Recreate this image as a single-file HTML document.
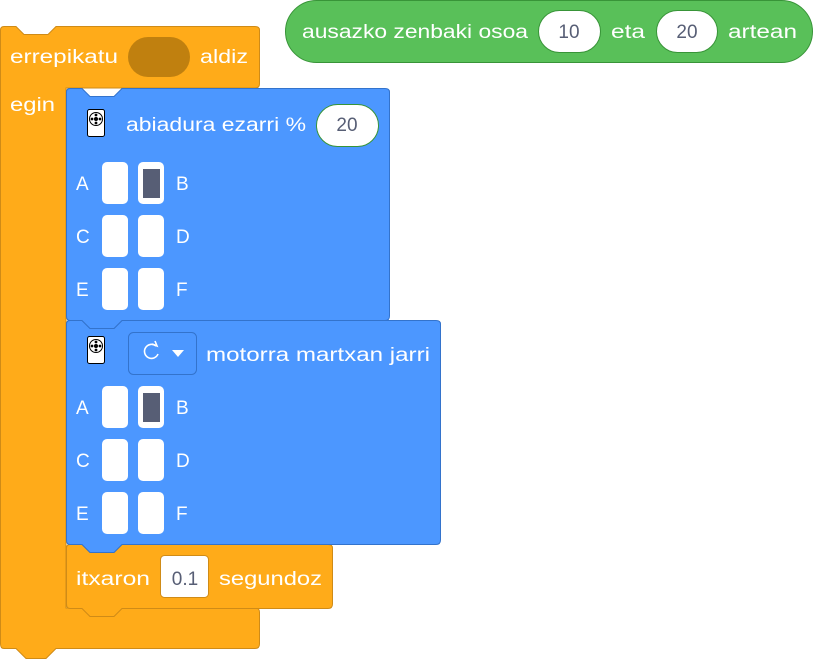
<!DOCTYPE html>
<html><head><meta charset="utf-8"><style>
html,body{margin:0;padding:0;background:#fff;width:813px;height:660px;overflow:hidden}
svg{display:block}
text{font-family:"Liberation Sans",sans-serif;font-size:19px;fill:#fff}
.dk{fill:#575E75}
</style></head><body>
<svg width="813" height="660" viewBox="0 0 813 660">
<g>
<rect x="285.5" y="0.5" width="527" height="62" rx="31" fill="#59C059" stroke="#389438"/>
<text x="302" y="38" textLength="226" lengthAdjust="spacingAndGlyphs">ausazko zenbaki osoa</text>
<rect x="538.5" y="10.5" width="62" height="42" rx="21" fill="#fff" stroke="#389438"/>
<text class="dk" x="569" y="38" text-anchor="middle">10</text>
<text x="611" y="38" textLength="34" lengthAdjust="spacingAndGlyphs">eta</text>
<rect x="656.5" y="10.5" width="61" height="42" rx="21" fill="#fff" stroke="#389438"/>
<text class="dk" x="687" y="38" text-anchor="middle">20</text>
<text x="728" y="38" textLength="69" lengthAdjust="spacingAndGlyphs">artean</text>
</g>
<g>
<path d="M0.5,30 Q0.5,26.5 4,26.5 L16,26.5 L24,34.5 L48,34.5 L56,26.5 L255,26.5 Q259.5,26.5 259.5,30 L259.5,84 Q259.5,88 255,88 L66,88 L66,608 L255,608 Q259.5,608 259.5,612 L259.5,644 Q259.5,648.5 255,648.5 L56,648.5 L46,658.5 L26,658.5 L16,648.5 L4,648.5 Q0.5,648.5 0.5,644 Z" fill="#FFAB19" stroke="#CF8B17"/>
<text x="10" y="63" textLength="108" lengthAdjust="spacingAndGlyphs">errepikatu</text>
<rect x="128" y="37" width="62" height="40" rx="20" fill="#C0800F"/>
<text x="200" y="63" textLength="48" lengthAdjust="spacingAndGlyphs">aldiz</text>
<text x="10" y="111" textLength="45" lengthAdjust="spacingAndGlyphs">egin</text>
</g>
<g>
<path d="M66.5,548 Q66.5,544.5 70,544.5 L82,544.5 L90,552.5 L114,552.5 L122,544.5 L328,544.5 Q332.5,544.5 332.5,548 L332.5,604 Q332.5,608.5 328,608.5 L122,608.5 L114,616.5 L90,616.5 L82,608.5 L70,608.5 Q66.5,608.5 66.5,604 Z" fill="#FFAB19" stroke="#CF8B17"/>
<text x="76" y="585" textLength="74" lengthAdjust="spacingAndGlyphs">itxaron</text>
<rect x="160.5" y="555.5" width="48" height="42" rx="4" fill="#fff" stroke="#CF8B17"/>
<text class="dk" x="185" y="585" text-anchor="middle">0.1</text>
<text x="219" y="585" textLength="103" lengthAdjust="spacingAndGlyphs">segundoz</text>
</g>
<g>
<path d="M66.5,324 Q66.5,320.5 70,320.5 L82,320.5 L90,328.5 L114,328.5 L122,320.5 L436,320.5 Q440.5,320.5 440.5,324 L440.5,540 Q440.5,544.5 436,544.5 L122,544.5 L114,552.5 L90,552.5 L82,544.5 L70,544.5 Q66.5,544.5 66.5,540 Z" fill="#4C97FF" stroke="#3373CC"/>
<g>
<rect x="87.5" y="336.5" width="17" height="27" rx="2" fill="#fff" stroke="#000"/>
<circle cx="96" cy="346" r="6.5" fill="#fff" stroke="#000"/>
<circle cx="96" cy="346" r="2" fill="#000"/><circle cx="96" cy="342" r="1.4" fill="#000"/><circle cx="96" cy="350" r="1.4" fill="#000"/><circle cx="92" cy="346" r="1.4" fill="#000"/><circle cx="100" cy="346" r="1.4" fill="#000"/>
</g>
<g>
<rect x="128.5" y="332.5" width="68" height="42" rx="5" fill="#4C97FF" stroke="#3373CC"/>
<path d="M156,346 A7,7 0 1 0 158,354" fill="none" stroke="#fff" stroke-width="1.6"/>
<path d="M152,344 L157,346 L155,341" fill="none" stroke="#fff" stroke-width="1.6"/>
<path d="M172,350 L184,350 L178,357 Z" fill="#fff"/>
</g>
<text x="206" y="361" textLength="224" lengthAdjust="spacingAndGlyphs">motorra martxan jarri</text>
<g>
<text x="76" y="414">A</text><rect x="102" y="386" width="26" height="42" rx="5" fill="#fff"/>
<rect x="138" y="386" width="26" height="42" rx="5" fill="#fff"/><rect x="143" y="393" width="17" height="29" fill="#575E75"/><text x="176" y="414">B</text>
<text x="76" y="467">C</text><rect x="102" y="439" width="26" height="42" rx="5" fill="#fff"/>
<rect x="138" y="439" width="26" height="42" rx="5" fill="#fff"/><text x="176" y="467">D</text>
<text x="76" y="520">E</text><rect x="102" y="492" width="26" height="42" rx="5" fill="#fff"/>
<rect x="138" y="492" width="26" height="42" rx="5" fill="#fff"/><text x="176" y="520">F</text>
</g>
</g>
<g>
<path d="M66.5,92 Q66.5,88.5 70,88.5 L82,88.5 L90,96.5 L114,96.5 L122,88.5 L385,88.5 Q389.5,88.5 389.5,92 L389.5,316 Q389.5,320.5 385,320.5 L122,320.5 L114,328.5 L90,328.5 L82,320.5 L70,320.5 Q66.5,320.5 66.5,316 Z" fill="#4C97FF" stroke="#3373CC"/>
<g>
<rect x="87.5" y="109.5" width="17" height="27" rx="2" fill="#fff" stroke="#000"/>
<circle cx="96" cy="119" r="6.5" fill="#fff" stroke="#000"/>
<circle cx="96" cy="119" r="2" fill="#000"/><circle cx="96" cy="115" r="1.4" fill="#000"/><circle cx="96" cy="123" r="1.4" fill="#000"/><circle cx="92" cy="119" r="1.4" fill="#000"/><circle cx="100" cy="119" r="1.4" fill="#000"/>
</g>
<text x="126" y="131" textLength="180" lengthAdjust="spacingAndGlyphs">abiadura ezarri %</text>
<rect x="316.5" y="104.5" width="62" height="42" rx="21" fill="#fff" stroke="#389438"/>
<text class="dk" x="347" y="131" text-anchor="middle">20</text>
<g>
<text x="76" y="190">A</text><rect x="102" y="162" width="26" height="42" rx="5" fill="#fff"/>
<rect x="138" y="162" width="26" height="42" rx="5" fill="#fff"/><rect x="143" y="169" width="17" height="29" fill="#575E75"/><text x="176" y="190">B</text>
<text x="76" y="243">C</text><rect x="102" y="215" width="26" height="42" rx="5" fill="#fff"/>
<rect x="138" y="215" width="26" height="42" rx="5" fill="#fff"/><text x="176" y="243">D</text>
<text x="76" y="296">E</text><rect x="102" y="268" width="26" height="42" rx="5" fill="#fff"/>
<rect x="138" y="268" width="26" height="42" rx="5" fill="#fff"/><text x="176" y="296">F</text>
</g>
</g>
</svg>
</body></html>
